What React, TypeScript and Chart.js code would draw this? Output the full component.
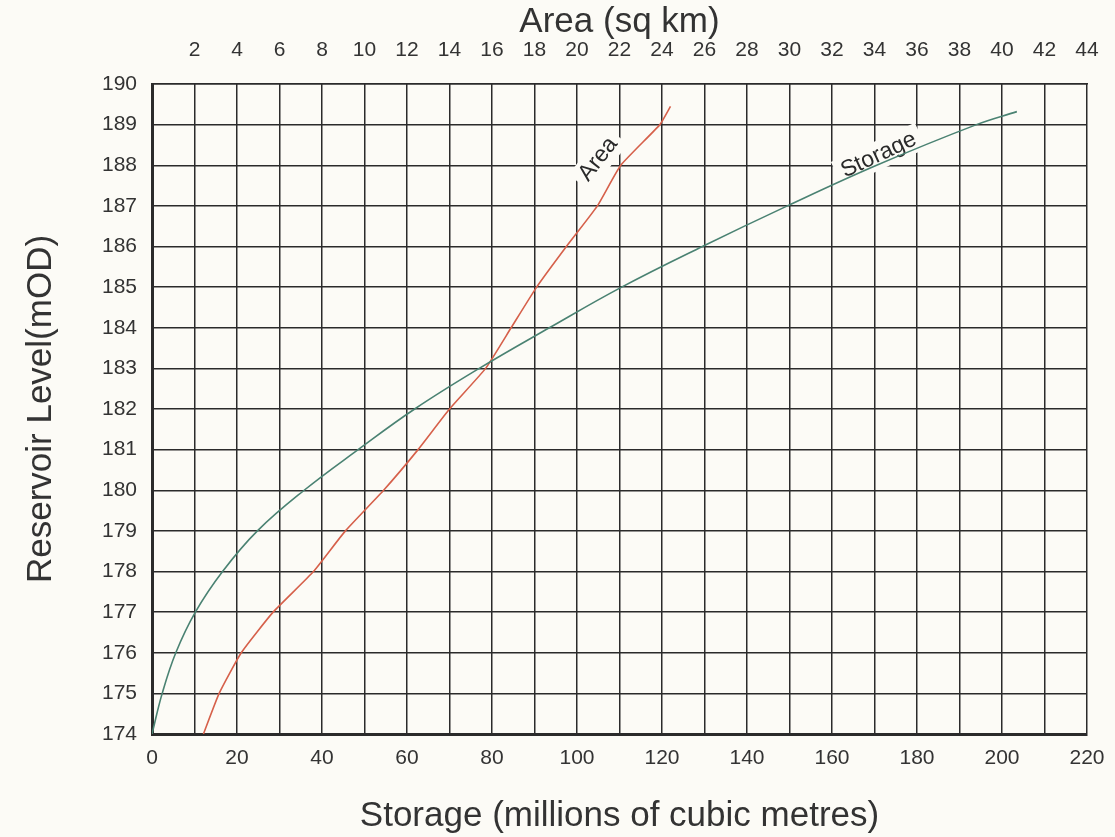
import React, { useEffect, useRef } from "react";
import { Chart, registerables } from "chart.js";

Chart.register(...registerables);

// Storage curve: reservoir level (mOD) vs storage (millions of cubic metres)
const storageLevels = [174, 175, 176, 177, 178, 179, 180, 181, 182, 183, 184, 185, 186, 187, 188, 189, 189.32];
const storageValues = [0, 2.4, 5.6, 10.2, 16.6, 24.8, 35.8, 48.5, 61.8, 77, 93.5, 110.5, 129.5, 149.5, 170.5, 194, 203.5];

// Area curve: reservoir level (mOD) vs area (sq km)
const areaLevels = [174, 175, 176, 177, 178, 179, 180, 181, 182, 183, 184, 185, 186, 187, 188, 189, 189.45];
const areaValues = [2.42, 3.16, 4.2, 5.7, 7.6, 9.1, 10.9, 12.52, 14.0, 15.7, 16.9, 18.1, 19.5, 20.96, 22.06, 23.9, 24.4];

// Axis ranges / ticks
const storageMin = 0;
const storageMax = 220;
const storageStep = 10;
const storageLabelEvery = 20;
const areaMin = 0;
const areaMax = 44;
const areaStep = 2;
const levelMin = 174;
const levelMax = 190;
const levelStep = 1;

// In-chart curve labels
const curveLabelTexts = ["Area", "Storage"];
const curveLabelAxes = ["x2", "x"];
const curveLabelX = [21.0, 171];
const curveLabelY = [188.15, 188.25];
const curveLabelAngles = [-52, -25];

const FONT = "'Liberation Sans', Arial, Helvetica, sans-serif";
const GRID = "#2b2b2b";
const PAPER = "#fcfbf6";

const paperPlugin = {
  id: "paper",
  beforeDraw(chart: any) {
    const { ctx, width, height } = chart;
    ctx.save();
    ctx.fillStyle = PAPER;
    ctx.fillRect(0, 0, width, height);
    ctx.restore();
  },
};

const curveLabelPlugin = {
  id: "curveLabels",
  beforeDatasetsDraw(chart: any) {
    const { ctx } = chart;
    curveLabelTexts.forEach((text, i) => {
      const xs = chart.scales[curveLabelAxes[i]];
      const px = xs.getPixelForValue(curveLabelX[i]);
      const py = chart.scales.y.getPixelForValue(curveLabelY[i]);
      ctx.save();
      ctx.translate(px, py);
      ctx.rotate((curveLabelAngles[i] * Math.PI) / 180);
      ctx.font = `23px ${FONT}`;
      const w = ctx.measureText(text).width;
      ctx.fillStyle = PAPER;
      ctx.fillRect(-w / 2 - 6, -14, w + 12, 28);
      ctx.fillStyle = "#2a2a2a";
      ctx.textAlign = "center";
      ctx.textBaseline = "middle";
      ctx.fillText(text, 0, 0);
      ctx.restore();
    });
  },
};

export default function App() {
  const canvasRef = useRef<HTMLCanvasElement | null>(null);

  useEffect(() => {
    const canvas = canvasRef.current;
    if (!canvas) return;
    const chart = new Chart(canvas, {
      type: "line",
      data: {
        datasets: [
          {
            label: "Storage",
            data: storageValues.map((v, i) => ({ x: v, y: storageLevels[i] })),
            xAxisID: "x",
            yAxisID: "y",
            borderColor: "#4a8272",
            borderWidth: 1.6,
            pointRadius: 0,
            tension: 0.4,
            fill: false,
          },
          {
            label: "Area",
            data: areaValues.map((v, i) => ({ x: v, y: areaLevels[i] })),
            xAxisID: "x2",
            yAxisID: "y",
            borderColor: "#d6604a",
            borderWidth: 1.6,
            pointRadius: 0,
            tension: 0.15,
            fill: false,
          },
        ],
      },
      options: {
        responsive: false,
        animation: false,
        layout: { padding: { left: 0, right: 28, top: 0, bottom: 0 } },
        plugins: {
          legend: { display: false },
          tooltip: { enabled: false },
          title: { display: false },
        },
        scales: {
          x: {
            type: "linear",
            position: "bottom",
            min: storageMin,
            max: storageMax,
            afterFit: (s: any) => {
              s.height = 103;
              s.paddingLeft = 0;
              s.paddingRight = 0;
            },
            ticks: {
              stepSize: storageStep,
              autoSkip: false,
              maxRotation: 0,
              padding: 12,
              color: "#333",
              font: { family: FONT, size: 21 },
              callback: (v: any) => (Number(v) % storageLabelEvery === 0 ? String(v) : ""),
            },
            grid: { color: GRID, lineWidth: 1.5, drawTicks: false },
            border: { display: true, color: GRID, width: 3 },
            title: {
              display: true,
              text: "Storage (millions of cubic metres)",
              color: "#333",
              font: { family: FONT, size: 35 },
              padding: { top: 0, bottom: 0 },
            },
          },
          x2: {
            type: "linear",
            position: "top",
            min: areaMin,
            max: areaMax,
            afterFit: (s: any) => {
              s.height = 84;
              s.paddingLeft = 0;
              s.paddingRight = 0;
            },
            ticks: {
              stepSize: areaStep,
              autoSkip: false,
              maxRotation: 0,
              padding: 21,
              color: "#333",
              font: { family: FONT, size: 21 },
              callback: (v: any) => (Number(v) === 0 ? "" : String(v)),
            },
            grid: { display: false, drawTicks: false },
            border: { display: true, color: GRID, width: 1.5 },
            title: {
              display: true,
              text: "Area (sq km)",
              color: "#333",
              font: { family: FONT, size: 35 },
              padding: { top: 1, bottom: 0 },
            },
          },
          y: {
            type: "linear",
            position: "left",
            min: levelMin,
            max: levelMax,
            afterFit: (s: any) => {
              s.width = 152;
              s.paddingTop = 0;
              s.paddingBottom = 0;
            },
            ticks: {
              stepSize: levelStep,
              autoSkip: false,
              padding: 15,
              color: "#333",
              font: { family: FONT, size: 21 },
            },
            grid: { color: GRID, lineWidth: 1.5, drawTicks: false },
            border: { display: true, color: GRID, width: 3 },
            title: {
              display: true,
              text: "Reservoir Level(mOD)",
              color: "#333",
              font: { family: FONT, size: 35 },
              padding: { top: 20.5, bottom: 0 },
            },
          },
        },
      },
      plugins: [paperPlugin, curveLabelPlugin],
    } as any);
    return () => chart.destroy();
  }, []);

  return (
    <div style={{ position: "fixed", left: 0, top: 0, width: 1115, height: 837, background: PAPER }}>
      <canvas ref={canvasRef} width={1115} height={837} style={{ display: "block" }} />
    </div>
  );
}
